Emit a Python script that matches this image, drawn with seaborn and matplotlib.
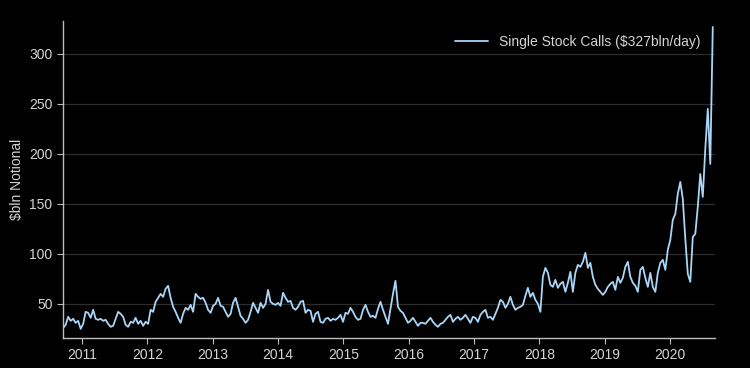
import numpy as np
import pandas as pd
import seaborn as sns
import matplotlib.pyplot as plt
import matplotlib.dates as mdates

# biweekly single stock call notional, $bln/day
calls_2010_2011 = [26, 29, 37, 33, 35, 31, 33, 25, 30, 42, 41, 36, 44, 35, 34, 35, 33, 34,
                   30, 27, 28, 35, 42, 40, 37, 29, 27, 32, 31, 36, 30, 33, 28, 32, 30]
calls_2012_2013 = [44, 42, 52, 56, 60, 57, 65, 68, 56, 47, 42, 36, 31, 40, 46, 44, 49, 42, 60, 57,
                   55, 56, 51, 44, 41, 48, 50, 56, 48, 47, 42, 37, 40, 51, 56, 47, 38, 35, 31, 34]
calls_2013_2014 = [42, 51, 46, 41, 51, 46, 50, 64, 52, 50, 49, 51, 48, 61, 56, 52, 53, 46, 44, 47,
                   52, 53, 41, 44, 43, 32, 40, 42, 32, 31, 35, 36, 33, 35, 34, 36, 39, 32, 41, 40]
calls_2015_2016 = [46, 42, 37, 34, 35, 44, 49, 42, 37, 38, 36, 45, 52, 44, 37, 30, 45, 60, 73, 47,
                   43, 41, 36, 31, 33, 36, 32, 28, 31, 31, 30, 33, 36, 32, 29, 27, 30, 31, 34, 37]
calls_2016_2018 = [39, 32, 35, 37, 34, 36, 39, 35, 31, 37, 36, 32, 39, 42, 44, 36, 37, 34, 40, 46,
                   54, 52, 46, 50, 57, 49, 44, 46, 47, 49, 58, 66, 57, 61, 54, 50, 42, 77, 86, 81]
calls_2018_2019 = [69, 67, 74, 66, 70, 72, 62, 71, 82, 62, 81, 89, 87, 92, 101, 86, 91, 77, 69, 65,
                   62, 59, 62, 67, 70, 72, 64, 77, 71, 76, 87, 92, 77, 71, 68, 62, 84, 87, 76, 67]
calls_2019_2020 = [81, 67, 62, 81, 91, 94, 84, 104, 114, 134, 140, 160, 172, 155, 115, 80, 72,
                   117, 120, 147, 180, 157, 205, 245, 190, 327]

calls = (calls_2010_2011 + calls_2012_2013 + calls_2013_2014 + calls_2015_2016
         + calls_2016_2018 + calls_2018_2019 + calls_2019_2020)
dates = pd.date_range("2010-09-17", "2020-08-28", periods=len(calls))
df = pd.DataFrame({"date": dates, "calls": calls})

label = "Single Stock Calls (\\$327bln/day)"
line_color = "#a9d5f7"
text_color = "#d4d4d4"

sns.set_theme(style="dark")
plt.rcParams["font.family"] = ["Liberation Sans", "DejaVu Sans"]

fig = plt.figure(figsize=(7.5, 3.68), dpi=100, facecolor="black")
ax = fig.add_axes([0.084, 0.082, 0.869, 0.861])
ax.set_facecolor("black")

sns.lineplot(data=df, x="date", y="calls", ax=ax, color=line_color, linewidth=1.3, label=label)

ax.set_xlim(pd.Timestamp("2010-09-16"), pd.Timestamp("2020-09-08"))
ax.set_ylim(16, 333)
ax.set_yticks([50, 100, 150, 200, 250, 300])
ax.xaxis.set_major_locator(mdates.YearLocator())
ax.xaxis.set_major_formatter(mdates.DateFormatter("%Y"))

ax.grid(axis="y", color="#2e2e2e", linewidth=0.9)
ax.grid(axis="x", visible=False)
for side in ["top", "right"]:
    ax.spines[side].set_visible(False)
for side in ["left", "bottom"]:
    ax.spines[side].set_color("#bdbdbd")
    ax.spines[side].set_linewidth(1.0)

ax.tick_params(colors=text_color, labelsize=10, length=4, width=0.8, direction="out",
               bottom=True, left=True)
ax.tick_params(axis="both", color="#bdbdbd")
ax.set_xlabel("")
ax.set_ylabel("\\$bln Notional", color=text_color, fontsize=10)

leg = ax.legend(loc="upper right", frameon=False, fontsize=10, handlelength=2.4,
                borderaxespad=0.6)
for t in leg.get_texts():
    t.set_color(text_color)

fig.savefig("out.png", dpi=100, facecolor="black")
